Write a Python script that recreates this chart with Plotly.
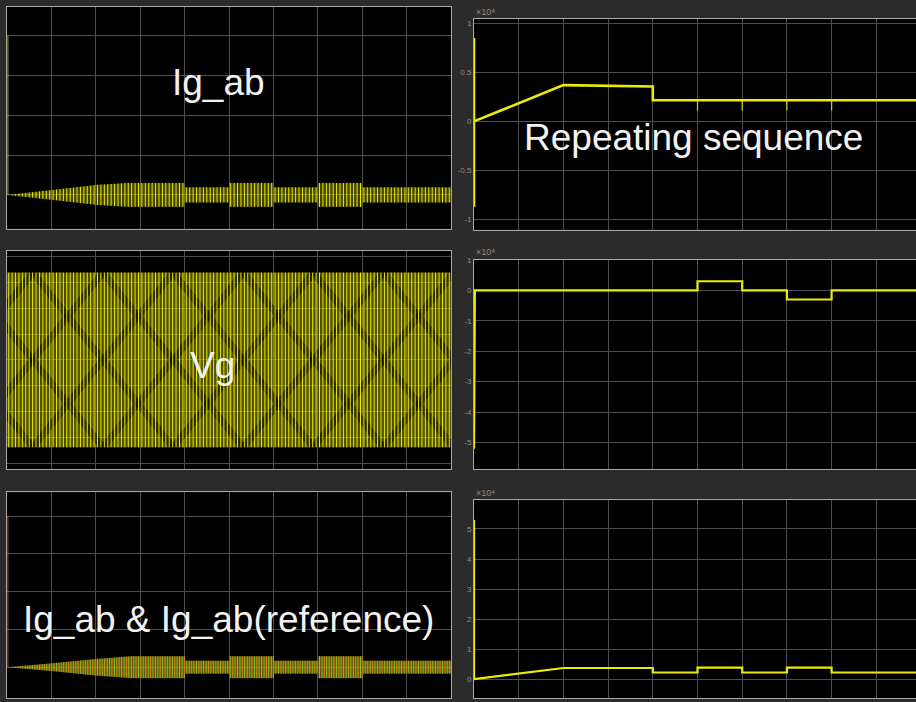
import numpy as np
import plotly.graph_objects as go

W, H = 916, 702

# ---------------- data (grid-division units) ----------------
cycles_per_div = 13          # carrier cycles per horizontal division (left scopes)
n_div = 10

# Ig_ab envelope (top-left scope)
ig_env_t = [0, 1, 2, 2.7, 4, 4.001, 5, 5.001, 6, 6.001, 7, 7.001, 8, 8.001, 10]
ig_env_v = [0, 0.12, 0.25, 0.30, 0.30, 0.19, 0.19, 0.30, 0.30, 0.19, 0.19, 0.30, 0.30, 0.19, 0.19]
ig_spike = 4.0

# Vg (middle-left scope)
vg_amp = 3.38
vg_lattice_centers = [-1.0, 0.58, 2.16, 3.74, 5.32, 6.90, 8.48, 10.06]
vg_lattice_half = 1.58

# Ig_ab & Ig_ab(reference) envelope (bottom-left scope)
bl_env_t = [0, 1, 2, 2.8, 4, 4.001, 5, 5.001, 6, 6.001, 7, 7.001, 8, 8.001, 10]
bl_env_v = [0, 0.10, 0.22, 0.29, 0.29, 0.17, 0.17, 0.29, 0.29, 0.17, 0.17, 0.29, 0.29, 0.17, 0.17]
bl_spike = 4.0

# Repeating sequence (top-right scope, x1e4)
rs_t = [0, 0, 0, 2.0, 4.0, 4.0, 9.9]
rs_v = [0.85, -0.87, 0.0, 0.37, 0.355, 0.215, 0.215]
rs_dip_t = [5, 6, 7, 8]
rs_dip_v = [0.11, 0.11, 0.11, 0.11]

# middle-right scope (x1e4)
mr_t = [0, 0, 0.02, 5, 5, 6, 6, 7, 7, 8, 8, 9.9]
mr_v = [0, -5.2, 0, 0, 0.3, 0.3, 0, 0, -0.3, -0.3, 0, 0]

# bottom-right scope (x1e4)
br_t = [0, 0, 0, 2, 4, 4, 5, 5, 6, 6, 7, 7, 8, 8, 9.9]
br_v = [2.2, 5.3, 0, 0.37, 0.37, 0.22, 0.22, 0.38, 0.38, 0.22, 0.22, 0.38, 0.38, 0.22, 0.22]

# axis tick labels (right scopes)
tr_ticks = [-1, -0.5, 0, 0.5, 1]
tr_ticktext = ["-1", "-0.5", "0", "0.5", "1"]
mr_ticks = [-5, -4, -3, -2, -1, 0, 1]
mr_ticktext = ["-5", "-4", "-3", "-2", "-1", "0", "1"]
br_ticks = [0, 1, 2, 3, 4, 5]
br_ticktext = ["0", "1", "2", "3", "4", "5"]

# ---------------- helpers ----------------
YEL = "#ecec00"
stripe_t = (np.arange(cycles_per_div * n_div) + 0.5) / cycles_per_div


def vsegments(ts, amps, base=None):
    xs, ys = [], []
    for i, (t, a) in enumerate(zip(ts, amps)):
        lo = -a if base is None else base[i]
        xs += [t, t, None]
        ys += [lo, a, None]
    return xs, ys


def band(t, v):
    t = list(t)
    v = list(v)
    return t + t[::-1], v + [-x for x in v[::-1]]


fig = go.Figure()

# ---- top-left: Ig_ab ----
bx, by = band(ig_env_t, ig_env_v)
fig.add_trace(go.Scatter(x=bx, y=by, fill="toself", fillcolor="rgba(190,190,0,0.35)",
                         line=dict(width=0), mode="lines", xaxis="x", yaxis="y", hoverinfo="skip"))
env = np.interp(stripe_t, ig_env_t, ig_env_v)
sx, sy = vsegments(stripe_t, env)
fig.add_trace(go.Scatter(x=sx, y=sy, mode="lines", line=dict(color=YEL, width=1),
                         xaxis="x", yaxis="y", hoverinfo="skip"))
fig.add_trace(go.Scatter(x=[0.02, 0.02], y=[0, ig_spike], mode="lines",
                         line=dict(color="rgba(230,230,0,0.6)", width=1.2), xaxis="x", yaxis="y"))

# ---- middle-left: Vg ----
fig.add_trace(go.Scatter(x=[0, 10, 10, 0], y=[vg_amp, vg_amp, -vg_amp, -vg_amp], fill="toself",
                         fillcolor="rgba(190,190,0,0.42)", line=dict(width=0), mode="lines",
                         xaxis="x2", yaxis="y2", hoverinfo="skip"))
lx, ly = [], []
for c in vg_lattice_centers:
    lx += [c - vg_lattice_half, c + vg_lattice_half, None, c - vg_lattice_half, c + vg_lattice_half, None]
    ly += [-vg_amp, vg_amp, None, vg_amp, -vg_amp, None]
fig.add_trace(go.Scatter(x=lx, y=ly, mode="lines", line=dict(color="rgba(0,0,0,0.5)", width=7),
                         xaxis="x2", yaxis="y2", hoverinfo="skip"))
sx, sy = vsegments(stripe_t, [vg_amp] * len(stripe_t))
fig.add_trace(go.Scatter(x=sx, y=sy, mode="lines", line=dict(color=YEL, width=1),
                         xaxis="x2", yaxis="y2", hoverinfo="skip"))

# ---- bottom-left: Ig_ab & reference ----
bx, by = band(bl_env_t, bl_env_v)
fig.add_trace(go.Scatter(x=bx, y=by, fill="toself", fillcolor="rgba(170,150,20,0.4)",
                         line=dict(width=0), mode="lines", xaxis="x3", yaxis="y3", hoverinfo="skip"))
env = np.interp(stripe_t, bl_env_t, bl_env_v)
sx, sy = vsegments(stripe_t, env)
fig.add_trace(go.Scatter(x=sx, y=sy, mode="lines", line=dict(color="rgb(130,200,30)", width=1),
                         xaxis="x3", yaxis="y3", hoverinfo="skip"))
t2 = stripe_t + 0.5 / cycles_per_div
env2 = np.interp(t2, bl_env_t, bl_env_v)
sx, sy = vsegments(t2, env2)
fig.add_trace(go.Scatter(x=sx, y=sy, mode="lines", line=dict(color="rgb(220,130,20)", width=1),
                         xaxis="x3", yaxis="y3", hoverinfo="skip"))
fig.add_trace(go.Scatter(x=[0.02, 0.02], y=[0, bl_spike], mode="lines",
                         line=dict(color="rgba(200,120,30,0.6)", width=1.2), xaxis="x3", yaxis="y3"))

# ---- right scopes ----
fig.add_trace(go.Scatter(x=rs_t, y=rs_v, mode="lines", line=dict(color=YEL, width=2.6),
                         xaxis="x4", yaxis="y4"))
dx, dy = vsegments(rs_dip_t, [0.215] * len(rs_dip_t), base=rs_dip_v)
fig.add_trace(go.Scatter(x=dx, y=dy, mode="lines", line=dict(color="rgba(225,225,0,0.85)", width=1.3),
                         xaxis="x4", yaxis="y4"))
fig.add_trace(go.Scatter(x=mr_t, y=mr_v, mode="lines", line=dict(color=YEL, width=2.2),
                         xaxis="x5", yaxis="y5"))
fig.add_trace(go.Scatter(x=br_t, y=br_v, mode="lines", line=dict(color=YEL, width=2.2),
                         xaxis="x6", yaxis="y6"))


# ---------------- layout ----------------
def pxd(a, b):
    return [a / W, b / W]


def pyd(top, bottom):
    return [1 - bottom / H, 1 - top / H]


GRID = "#4e4e4e"
LINE = "#a9a9a9"
TICKF = dict(family="Liberation Sans, Arial, sans-serif", size=8, color="#8e8e8e")

def xax(dom, rng, anchor):
    return dict(domain=dom, range=rng, anchor=anchor, showgrid=True, gridcolor=GRID, gridwidth=1,
                zeroline=False, showline=True, linecolor=LINE, linewidth=1, mirror=True,
                showticklabels=False, ticks="", tick0=0, dtick=1, fixedrange=True)

def yax(dom, rng, anchor, tickvals, ticktext=None, mirror=True):
    d = dict(domain=dom, range=rng, anchor=anchor, showgrid=True, gridcolor=GRID, gridwidth=1,
             zeroline=False, showline=True, linecolor=LINE, linewidth=1, mirror=mirror,
             tickvals=tickvals, ticks="", fixedrange=True)
    if ticktext is None:
        d["showticklabels"] = False
    else:
        d["ticktext"] = ticktext
        d["tickfont"] = TICKF
    return d

LX = pxd(7, 451)
RX = [474 / W, 1.0]
r_xmax = (916 - 474) / 44.7

fig.update_layout(
    width=W, height=H, margin=dict(l=0, r=0, t=0, b=0),
    paper_bgcolor="#2b2b2b", plot_bgcolor="#000000", showlegend=False,
    xaxis=xax(LX, [0, 10], "y"),
    yaxis=yax(pyd(3, 226), [-0.85, 4.725], "x", [0, 1, 2, 3, 4]),
    xaxis2=xax(LX, [0, 10], "y2"),
    yaxis2=yax(pyd(248, 468), [-4.23, 4.23], "x2", [-4, -3, -2, -1, 0, 1, 2, 3, 4]),
    xaxis3=xax(LX, [0, 10], "y3"),
    yaxis3=yax(pyd(491, 698), [-0.816, 4.63], "x3", [0, 1, 2, 3, 4]),
    xaxis4=xax(RX, [0, r_xmax], "y4"),
    yaxis4=yax(pyd(15, 227), [-1.105, 1.045], "x4", tr_ticks, tr_ticktext, mirror=False),
    xaxis5=xax(RX, [0, r_xmax], "y5"),
    yaxis5=yax(pyd(257, 468), [-5.88, 1.013], "x5", mr_ticks, mr_ticktext, mirror=False),
    xaxis6=xax(RX, [0, r_xmax], "y6"),
    yaxis6=yax(pyd(499, 698), [-0.63, 5.96], "x6", br_ticks, br_ticktext, mirror=False),
)

BIG = dict(family="Liberation Sans, Arial, sans-serif", size=37, color="#f2f2f2")
labels = [("Ig_ab", 218, 79), ("Repeating sequence", 693, 134), ("Vg", 212, 364),
          ("Ig_ab & Ig_ab(reference)", 228, 619)]
for txt, x, y in labels:
    fig.add_annotation(text=txt, x=x / W, y=1 - y / H, xref="paper", yref="paper",
                       xanchor="center", yanchor="middle", showarrow=False, font=BIG)

EXP = dict(family="Liberation Sans, Arial, sans-serif", size=9, color="#8e8e8e")
for y in (8, 249, 492):
    fig.add_annotation(text="×10⁴", x=474 / W, y=1 - y / H, xref="paper", yref="paper",
                       xanchor="left", yanchor="middle", showarrow=False, font=EXP)

fig.write_html("out.html")
